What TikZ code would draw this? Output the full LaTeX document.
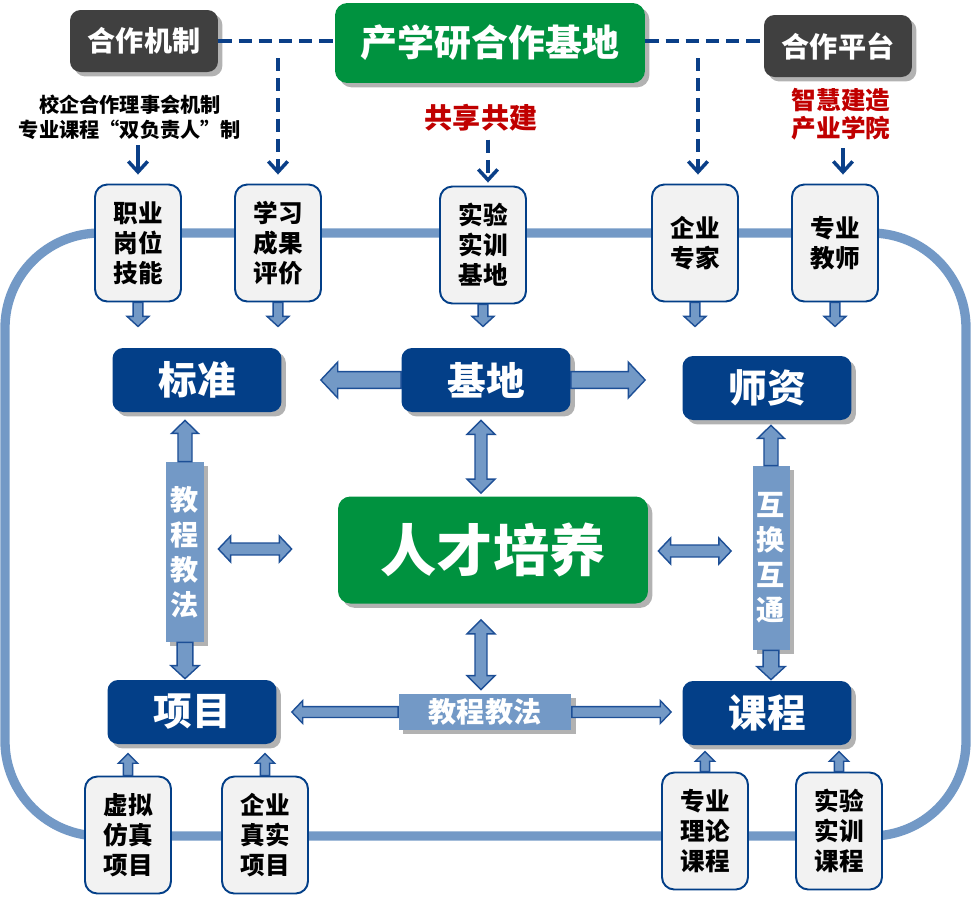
\documentclass[tikz,border=0pt]{standalone}
\usepackage{fontspec}
\setmainfont{Noto Sans CJK SC}
\usetikzlibrary{calc,shadows,arrows.meta}

\definecolor{boxnavy}{HTML}{033F88}
\definecolor{boxgreen}{HTML}{00923F}
\definecolor{boxgray}{HTML}{404040}
\definecolor{linkblue}{HTML}{7399C6}
\definecolor{arrowedge}{HTML}{1D4F96}
\definecolor{dashblue}{HTML}{0A3F88}
\definecolor{labelred}{HTML}{C00000}
\definecolor{cardfill}{HTML}{F2F2F2}

\tikzset{
  boxshadow/.style={general shadow={fill=black!30, shadow xshift=2.5pt, shadow yshift=-2.5pt}},
  topbox/.style={boxshadow, fill=boxgray, text=white, rounded corners=6pt, inner sep=0pt,
    minimum width=2.96cm, minimum height=1.24cm, font=\fontsize{16pt}{16pt}\selectfont\bfseries},
  greenbox/.style={boxshadow, fill=boxgreen, text=white, rounded corners=7pt, inner sep=0pt,
    minimum width=6.2cm},
  mainbox/.style={boxshadow, fill=boxnavy, text=white, rounded corners=6pt, inner sep=0pt,
    minimum width=3.38cm, minimum height=1.28cm, font=\fontsize{22pt}{22pt}\selectfont\bfseries},
  card/.style={draw=boxnavy, line width=1.1pt, fill=cardfill, rounded corners=7pt, inner sep=0pt,
    minimum width=1.72cm, minimum height=2.34cm, align=center,
    font=\fontsize{14pt}{17pt}\selectfont\bfseries},
  bar/.style={boxshadow, fill=linkblue, text=white, inner sep=0pt, align=center,
    font=\fontsize{16pt}{20pt}\selectfont\bfseries},
  track/.style={draw=linkblue, line width=5.3pt, rounded corners=1.9cm},
  fatarrow/.style={fill=linkblue, draw=arrowedge, line width=0.8pt},
  dashlink/.style={draw=dashblue, line width=2pt, dash pattern=on 7.5pt off 4pt},
  pointer/.style={draw=dashblue, line width=2pt, -{Straight Barb[length=6pt,width=11pt]}},
  redlabel/.style={text=labelred, align=center, font=\fontsize{16pt}{16pt}\selectfont\bfseries}
}

% 单向块箭头：起点、终点、杆半宽、头半宽、头长
\newcommand{\blockarrow}[5]{%
  \filldraw[fatarrow] let \p1=#1, \p2=#2,
    \n1={atan2(\y2-\y1,\x2-\x1)}, \n2={veclen(\x2-\x1,\y2-\y1)} in
    [shift={(\p1)}, rotate=\n1]
    (0pt,-#3) -- ({\n2-#5},-#3) -- ({\n2-#5},-#4) -- ({\n2+0pt},0pt)
    -- ({\n2-#5},#4) -- ({\n2-#5},#3) -- (0pt,#3) -- cycle;}

% 双向块箭头
\newcommand{\dblockarrow}[5]{%
  \filldraw[fatarrow] let \p1=#1, \p2=#2,
    \n1={atan2(\y2-\y1,\x2-\x1)}, \n2={veclen(\x2-\x1,\y2-\y1)} in
    [shift={(\p1)}, rotate=\n1]
    (0pt,0pt) -- (#5,#4) -- (#5,#3) -- ({\n2-#5},#3) -- ({\n2-#5},#4)
    -- ({\n2+0pt},0pt) -- ({\n2-#5},-#4) -- ({\n2-#5},-#3) -- (#5,-#3)
    -- (#5,-#4) -- cycle;}

\begin{document}
\begin{tikzpicture}[x=0.02cm, y=-0.02cm]
\useasboundingbox (0,0) rectangle (971,897);

% 外环
\draw[track] (5,233) rectangle (966,836);

% 顶部
\node[topbox] (mech) at (144,41) {合作机制};
\node[greenbox, minimum height=1.6cm, font=\fontsize{21pt}{21pt}\selectfont\bfseries]
  (base) at (490,43) {产学研合作基地};
\node[topbox] (platform) at (838,46) {合作平台};

\node[align=center, font=\fontsize{11.5pt}{14pt}\selectfont\bfseries]
  (council) at (130,117) {校企合作理事会机制\\专业课程“双负责人”制};
\node[redlabel] (share) at (481,118) {共享共建};
\node[redlabel, font=\fontsize{14pt}{16pt}\selectfont\bfseries]
  (college) at (841,114) {智慧建造\\产业学院};

% 上排卡片
\node[card] (skill) at (138,243) {职业\\岗位\\技能};
\node[card] (assess) at (278,243) {学习\\成果\\评价};
\node[card] (lab) at (483,245) {实验\\实训\\基地};
\node[card] (expert) at (695,243) {企业\\专家};
\node[card] (teacher) at (835,243) {专业\\教师};

% 主框
\node[mainbox] (standard) at (197,380) {标准};
\node[mainbox] (basis) at (486,380) {基地};
\node[mainbox] (faculty) at (767,388) {师资};
\node[greenbox, minimum height=2.14cm, font=\fontsize{32pt}{32pt}\selectfont\bfseries]
  (talent) at (493,550) {人才培养};
\node[mainbox] (project) at (192,712) {项目};
\node[mainbox] (course) at (767,713) {课程};

% 竖条与横条
\node[bar, minimum width=0.76cm, minimum height=3.6cm] (method1) at (185,552) {教\\程\\教\\法};
\node[bar, minimum width=0.74cm, minimum height=3.68cm] (exchange) at (771,558) {互\\换\\互\\通};
\node[bar, minimum width=3.46cm, minimum height=0.72cm] (method2) at (485,712) {教程教法};

% 下排卡片
\node[card] (virtual) at (128,835) {虚拟\\仿真\\项目};
\node[card] (real) at (265,835) {企业\\真实\\项目};
\node[card] (theory) at (705,831) {专业\\理论\\课程};
\node[card] (practice) at (839,831) {实验\\实训\\课程};

% 虚线
\draw[dashlink] (mech.east) -- (mech.east -| base.west);
\draw[dashlink] (base.east |- mech.east) -- (platform.west |- mech.east);
\coordinate (drop1) at (278,58);
\coordinate (drop2) at (698,58);
\draw[dashlink, pointer] (drop1) -- ($(drop1 |- assess.north)+(0,-9)$);
\draw[dashlink, pointer] (drop2) -- ($(drop2 |- expert.north)+(0,-9)$);
\draw[dashlink, pointer] ($(share.south)+(7,2)$) -- ($(lab.north)+(5,-3)$);
\draw[pointer] (council.south -| skill.north) -- ($(skill.north)+(0,-9)$);
\draw[pointer] ($(college.south)+(2,2)$) -- ($(teacher.north -| college.south)+(2,-9)$);

% 块箭头
\blockarrow{(basis.west)}{($(standard.east)+(39,0)$)}{4.8pt}{10.2pt}{9.6pt}
\blockarrow{(basis.east)}{($(basis.east -| faculty.west)+(-37,0)$)}{4.8pt}{10.2pt}{9.6pt}
\dblockarrow{($(basis.south)+(-5,8)$)}{($(talent.north -| basis.south)+(-5,-3)$)}{3.4pt}{8pt}{8pt}
\dblockarrow{($(talent.south -| method2.north)+(-4,16)$)}{($(method2.north)+(-4,-4)$)}{3.4pt}{8pt}{8pt}
\dblockarrow{($(method1.east)+(14,-3)$)}{($(method1.east -| talent.west)+(-46,-3)$)}{3.4pt}{7.4pt}{7pt}
\dblockarrow{($(talent.east)+(10,1)$)}{($(talent.east -| exchange.west)+(-21,1)$)}{3.4pt}{7.4pt}{7pt}
\blockarrow{(method1.north)}{($(method1.north |- standard.south)+(0,8)$)}{4pt}{7.6pt}{7.4pt}
\blockarrow{(method1.south)}{($(method1.south |- project.north)+(0,-1)$)}{4.5pt}{8pt}{7.4pt}
\blockarrow{(exchange.north)}{($(exchange.north |- faculty.south)+(0,5)$)}{4pt}{7.6pt}{7.4pt}
\blockarrow{(exchange.south)}{($(exchange.south |- course.north)+(0,-1)$)}{4.5pt}{8pt}{7.4pt}
\blockarrow{(method2.west)}{($(method2.west -| project.east)+(15,0)$)}{3.1pt}{6.5pt}{6.2pt}
\blockarrow{(method2.east)}{($(method2.east -| course.west)+(-11,0)$)}{3.1pt}{6.5pt}{6.2pt}

% 卡片小箭头
\blockarrow{(skill.south)}{($(skill.south)+(0,24)$)}{2.8pt}{6.2pt}{5.7pt}
\blockarrow{(assess.south)}{($(assess.south)+(0,24)$)}{2.8pt}{6.2pt}{5.7pt}
\blockarrow{(lab.south)}{($(lab.south)+(0,22)$)}{2.8pt}{6.2pt}{5.7pt}
\blockarrow{(expert.south)}{($(expert.south)+(0,24)$)}{2.8pt}{6.2pt}{5.7pt}
\blockarrow{(teacher.south)}{($(teacher.south)+(0,24)$)}{2.8pt}{6.2pt}{5.7pt}
\blockarrow{(virtual.north)}{($(virtual.north)+(0,-22)$)}{2.6pt}{5.5pt}{5.5pt}
\blockarrow{(real.north)}{($(real.north)+(0,-22)$)}{2.6pt}{5.5pt}{5.5pt}
\blockarrow{(theory.north)}{($(theory.north)+(0,-20)$)}{2.6pt}{5.5pt}{5.5pt}
\blockarrow{(practice.north)}{($(practice.north)+(0,-20)$)}{2.6pt}{5.5pt}{5.5pt}

\end{tikzpicture}
\end{document}
